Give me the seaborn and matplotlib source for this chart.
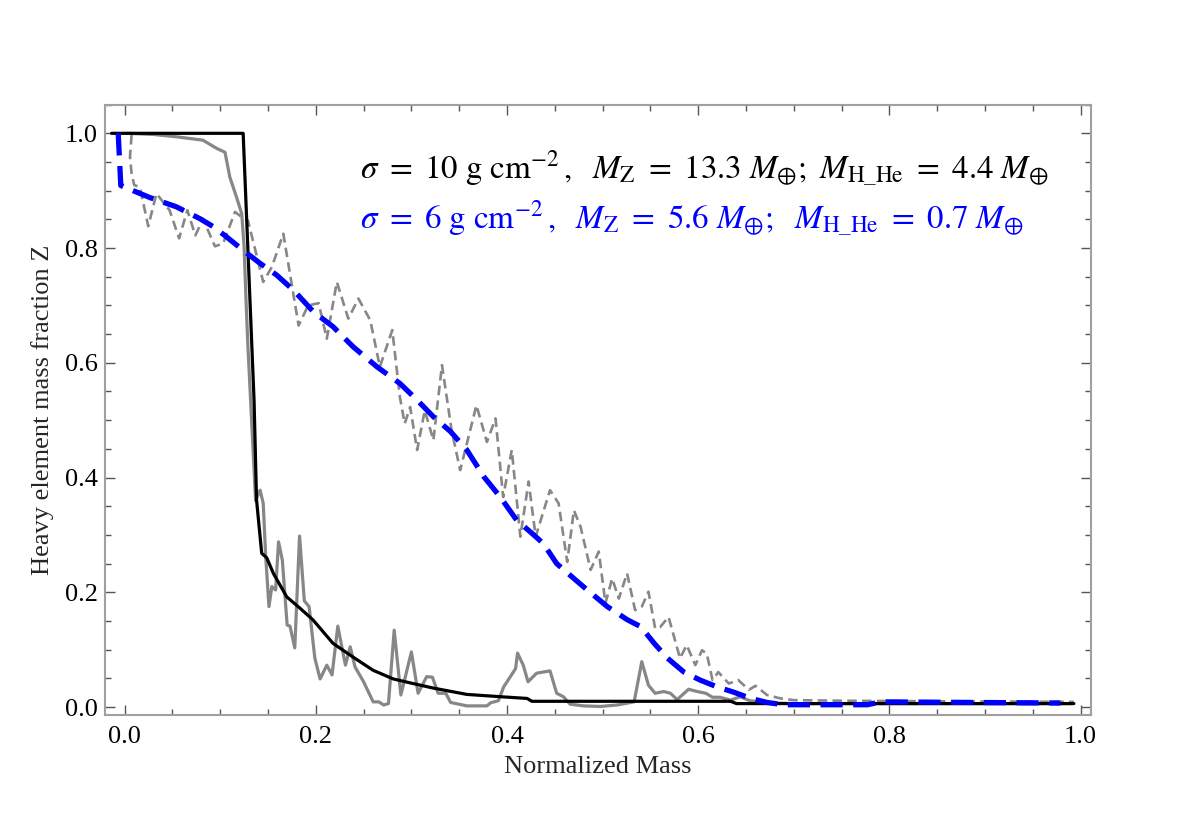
import matplotlib
matplotlib.use("Agg")
import matplotlib.pyplot as plt
import seaborn as sns
import pandas as pd
from matplotlib.ticker import MultipleLocator, FormatStrFormatter

# sigma = 10 smooth (black)
s10_smooth_x = [-0.0136, 0.124, 0.1354, 0.138, 0.1434, 0.1487, 0.1556, 0.1696, 0.1836, 0.197,
                0.218, 0.239, 0.26, 0.281, 0.299, 0.323, 0.358, 0.393, 0.421, 0.426,
                0.634, 0.640, 0.993]
s10_smooth_y = [1.0, 1.0, 0.535, 0.361, 0.268, 0.26, 0.233, 0.192, 0.172, 0.152,
                0.111, 0.087, 0.064, 0.049, 0.042, 0.033, 0.022, 0.018, 0.015, 0.010,
                0.010, 0.006, 0.006]

# sigma = 10 noisy (gray solid)
s10_noisy_x = [0.002, 0.03, 0.054, 0.082, 0.096, 0.105, 0.110, 0.117, 0.1225, 0.125,
               0.127, 0.129, 0.137, 0.1417, 0.145, 0.1476, 0.151, 0.154, 0.158, 0.161,
               0.165, 0.170, 0.173, 0.178, 0.183, 0.188, 0.193, 0.199, 0.2045, 0.2115,
               0.217, 0.223, 0.231, 0.236, 0.241, 0.25, 0.26, 0.266, 0.271, 0.276,
               0.282, 0.289, 0.300, 0.307, 0.316, 0.322, 0.328, 0.336, 0.341, 0.358,
               0.379, 0.383, 0.391, 0.3965, 0.409, 0.411, 0.417, 0.422, 0.431, 0.445,
               0.452, 0.459, 0.466, 0.480, 0.498, 0.515, 0.533, 0.541, 0.548, 0.555,
               0.564, 0.571, 0.578, 0.590, 0.599, 0.608, 0.615, 0.623, 0.634, 0.644,
               0.654, 0.672, 0.70, 0.80, 0.90, 0.99]
s10_noisy_y = [1.0, 0.998, 0.994, 0.988, 0.974, 0.967, 0.924, 0.889, 0.86, 0.802,
               0.709, 0.628, 0.36, 0.378, 0.355, 0.262, 0.175, 0.21, 0.204, 0.288,
               0.256, 0.143, 0.141, 0.103, 0.298, 0.185, 0.175, 0.085, 0.049, 0.073,
               0.056, 0.141, 0.073, 0.105, 0.07, 0.044, 0.009, 0.009, 0.0035, 0.006,
               0.134, 0.021, 0.096, 0.024, 0.053, 0.052, 0.024, 0.024, 0.008, 0.002,
               0.002, 0.0075, 0.011, 0.035, 0.067, 0.094, 0.073, 0.044, 0.059, 0.063,
               0.024, 0.018, 0.005, 0.002, 0.001, 0.0035, 0.009, 0.079, 0.038, 0.024,
               0.027, 0.024, 0.013, 0.031, 0.027, 0.024, 0.017, 0.017, 0.012, 0.018,
               0.011, 0.0075, 0.006, 0.006, 0.006, 0.006]

# sigma = 6 noisy (gray dashed)
s6_noisy_x = [0.0073, 0.0056, 0.0073, 0.010, 0.016, 0.0247, 0.0333, 0.047, 0.057, 0.0656,
              0.074, 0.082, 0.0945, 0.103, 0.1155, 0.1225, 0.129, 0.145, 0.154, 0.166,
              0.182, 0.192, 0.203, 0.2115, 0.222, 0.234, 0.2446, 0.257, 0.267, 0.28,
              0.288, 0.293, 0.2987, 0.306, 0.314, 0.323, 0.332, 0.342, 0.351, 0.358,
              0.368, 0.379, 0.388, 0.396, 0.405, 0.414, 0.4226, 0.43, 0.445, 0.454,
              0.463, 0.47, 0.477, 0.4875, 0.496, 0.503, 0.51, 0.517, 0.5256, 0.534,
              0.541, 0.548, 0.555, 0.56, 0.569, 0.581, 0.588, 0.597, 0.604, 0.609,
              0.615, 0.621, 0.632, 0.642, 0.653, 0.66, 0.672, 0.686, 0.70, 0.75,
              0.85, 0.993]
s6_noisy_y = [0.997, 0.959, 0.930, 0.910, 0.906, 0.838, 0.895, 0.866, 0.817, 0.866,
              0.822, 0.851, 0.803, 0.808, 0.863, 0.854, 0.848, 0.741, 0.767, 0.825,
              0.665, 0.700, 0.704, 0.642, 0.741, 0.677, 0.712, 0.674, 0.593, 0.657,
              0.540, 0.494, 0.523, 0.448, 0.517, 0.465, 0.596, 0.483, 0.413, 0.459,
              0.526, 0.462, 0.503, 0.366, 0.448, 0.297, 0.393, 0.297, 0.378, 0.355,
              0.253, 0.343, 0.314, 0.239, 0.271, 0.181, 0.224, 0.189, 0.233, 0.169,
              0.175, 0.201, 0.137, 0.139, 0.157, 0.085, 0.108, 0.073, 0.099, 0.093,
              0.047, 0.061, 0.041, 0.047, 0.030, 0.037, 0.021, 0.015, 0.012, 0.011,
              0.010, 0.009]

# sigma = 6 smooth (blue dashed)
s6_smooth_x = [-0.0067, -0.004, 0.009, 0.0265, 0.054, 0.079, 0.093, 0.107, 0.124, 0.142,
               0.159, 0.177, 0.1975, 0.218, 0.239, 0.264, 0.288, 0.306, 0.323, 0.341,
               0.358, 0.376, 0.393, 0.41, 0.428, 0.438, 0.452, 0.47, 0.484, 0.505,
               0.526, 0.54, 0.554, 0.568, 0.585, 0.602, 0.62, 0.637, 0.655, 0.672,
               0.689, 0.777, 0.791, 0.979]
s6_smooth_y = [1.0, 0.909, 0.900, 0.888, 0.872, 0.851, 0.837, 0.819, 0.796, 0.773,
               0.753, 0.726, 0.689, 0.663, 0.628, 0.593, 0.564, 0.535, 0.506, 0.48,
               0.448, 0.401, 0.366, 0.326, 0.30, 0.285, 0.25, 0.224, 0.204, 0.175,
               0.152, 0.14, 0.111, 0.085, 0.061, 0.047, 0.035, 0.026, 0.015, 0.008,
               0.004, 0.004, 0.009, 0.007]

label_s10 = (r"$\sigma\ =\ 10\ \mathrm{g\ cm}^{-2}\,,\ \ M_{\mathrm{Z}}\ =\ 13.3\ M_{\oplus};"
             r"\ M_{\mathrm{H\_He}}\ =\ 4.4\ M_{\oplus}$")
label_s6 = (r"$\sigma\ =\ 6\ \mathrm{g\ cm}^{-2}\,,\ \ M_{\mathrm{Z}}\ =\ 5.6\ M_{\oplus};"
            r"\ \ M_{\mathrm{H\_He}}\ =\ 0.7\ M_{\oplus}$")

sns.set_style("ticks")
plt.rcParams["font.family"] = ["Liberation Serif", "DejaVu Serif"]
plt.rcParams["mathtext.fontset"] = "stix"

fig = plt.figure(figsize=(12, 8.21), dpi=100)
ax = fig.add_axes([0.0872, 0.1291, 0.8217, 0.7436])

gray = "#878787"
df_a = pd.DataFrame({"x": s10_noisy_x, "y": s10_noisy_y})
df_b = pd.DataFrame({"x": s6_noisy_x, "y": s6_noisy_y})
df_c = pd.DataFrame({"x": s10_smooth_x, "y": s10_smooth_y})
df_d = pd.DataFrame({"x": s6_smooth_x, "y": s6_smooth_y})

sns.lineplot(data=df_a, x="x", y="y", ax=ax, sort=False, estimator=None,
             color=gray, linewidth=2.3)
sns.lineplot(data=df_b, x="x", y="y", ax=ax, sort=False, estimator=None,
             color=gray, linewidth=1.9, linestyle=(0, (3.6, 2.0)))
sns.lineplot(data=df_c, x="x", y="y", ax=ax, sort=False, estimator=None,
             color="black", linewidth=2.3)
sns.lineplot(data=df_d, x="x", y="y", ax=ax, sort=False, estimator=None,
             color="#0000ff", linewidth=3.8, linestyle=(0, (4.2, 2.0)))

ax.set_xlim(-0.0209, 1.0106)
ax.set_ylim(-0.0139, 1.0502)

ax.xaxis.set_major_locator(MultipleLocator(0.2))
ax.xaxis.set_minor_locator(MultipleLocator(0.05))
ax.yaxis.set_major_locator(MultipleLocator(0.2))
ax.yaxis.set_minor_locator(MultipleLocator(0.05))
ax.xaxis.set_major_formatter(FormatStrFormatter("%.1f"))
ax.yaxis.set_major_formatter(FormatStrFormatter("%.1f"))

ax.tick_params(which="both", direction="in", top=True, right=True,
               color="#555555", width=1.0, labelsize=19, labelcolor="black")
ax.tick_params(axis="y", pad=5)
ax.tick_params(axis="x", pad=8)
ax.tick_params(which="major", length=7)
ax.tick_params(which="minor", length=4)
for sp in ax.spines.values():
    sp.set_color("#a0a0a0")
    sp.set_linewidth(1.5)

ax.set_xlabel("Normalized Mass", fontsize=19, labelpad=6)
ax.set_ylabel("Heavy element mass fraction Z", fontsize=19, labelpad=8)

ax.text(0.246, 0.939, label_s10, fontsize=23.8, color="black", va="center", ha="left")
ax.text(0.246, 0.852, label_s6, fontsize=23.8, color="#0000ff", va="center", ha="left")

fig.savefig("out.png", dpi=100)
